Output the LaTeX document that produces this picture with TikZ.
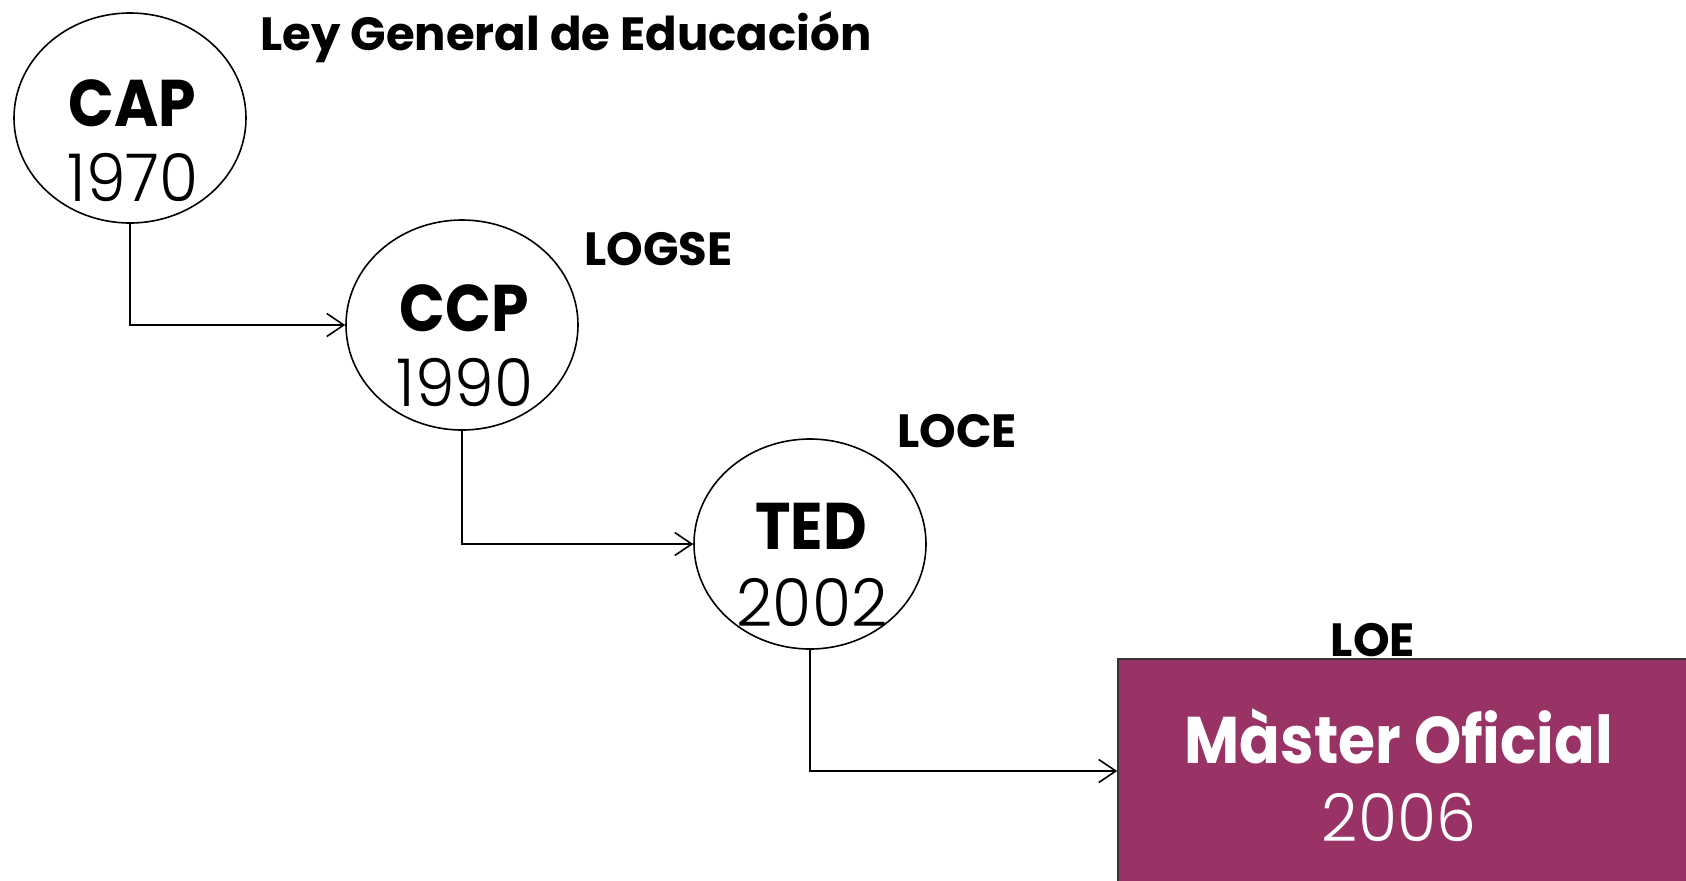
\documentclass[tikz,border=0pt]{standalone}
\usepackage{fontspec}
\setmainfont{Poppins}
\newfontfamily\lightfont{Poppins Light}[FakeStretch=0.96]
\newfontfamily\titlefont{Poppins}[FakeStretch=0.91]
\usetikzlibrary{shapes.geometric,arrows.meta}
\definecolor{plum}{RGB}{153,51,102}
\tikzset{
  oval/.style={ellipse,draw=black,line width=0.8pt,minimum width=116pt,minimum height=105pt,inner sep=0pt},
  law/.style={font=\fontsize{23.3}{25}\selectfont\bfseries,inner sep=0pt},
  title/.style={font=\titlefont\fontsize{33}{36}\selectfont\bfseries,inner sep=0pt,anchor=base},
  year/.style={font=\lightfont\fontsize{33}{36}\selectfont,inner sep=0pt,anchor=base},
  arr/.style={line width=0.8pt,-{Straight Barb[length=8.5pt,width=11.5pt]}}
}
\begin{document}
\begin{tikzpicture}[x=0.5pt,y=-0.5pt]
\useasboundingbox (0,0) rectangle (1686,880);
\clip (0,0) rectangle (1686,880);
\fill[white] (0,0) rectangle (1686,880);
\node[oval] (cap) at (130,118) {};
\node[oval] (ccp) at (462,325) {};
\node[oval] (ted) at (810,544) {};
\node[draw=black!80,line width=0.8pt,fill=plum,minimum width=300pt,minimum height=112pt,inner sep=0pt] (box) at (1418,771) {};
\node[title] (capt) at (132,126) {CAP};
\node[year] (capy) at (133,201) {1970};
\node[title] (ccpt) at (464,331) {CCP};
\node[year] (ccpy) at (465,406) {1990};
\node[title] (tedt) at (811,549) {TED};
\node[year] (tedy) at (812,626) {2002};
\node[title,text=white] (mast) at (1399,763) {Màster Oficial};
\node[year,text=white] (masy) at (1399,841) {2006};
\node[law,anchor=base west] (lge) at (260,50) {Ley General de Educación};
\node[law,anchor=base west] (logse) at (584,265) {LOGSE};
\node[law,anchor=base west] (loce) at (897,447) {LOCE};
\node[law,anchor=base] (loe) at (1373,656) {LOE};
\draw[arr] (cap.south) |- (ccp.west);
\draw[arr] (ccp.south) |- (ted.west);
\draw[arr] (ted.south) |- (box.west);
\end{tikzpicture}
\end{document}
